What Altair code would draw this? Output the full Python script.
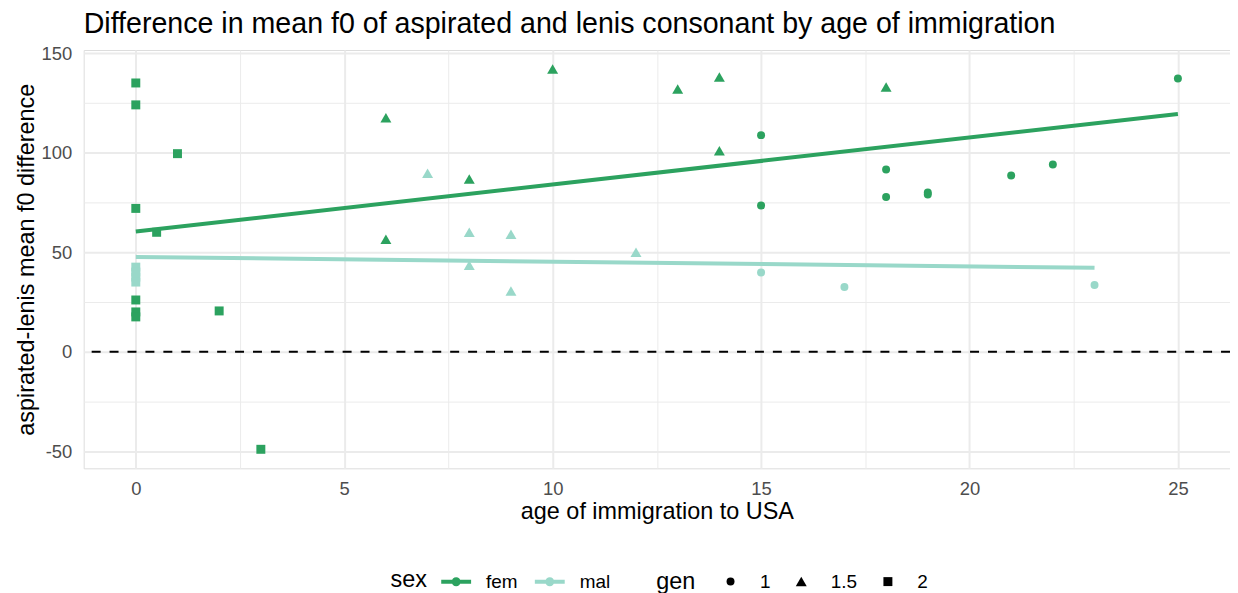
import altair as alt
import pandas as pd

# ---- data ----
fem_x = [0, 0, 0, 0, 0, 0, 0.5, 1, 2, 3,
         6, 6, 8, 10, 13, 14, 14, 18,
         15, 15, 18, 18, 19, 19, 21, 22, 25]
fem_y = [135, 124, 72, 26, 20, 17.5, 60, 99.5, 20.5, -49,
         117.5, 56.5, 86.8, 142, 132, 138, 101, 133,
         108.8, 73.5, 91.5, 77.7, 80, 79, 88.5, 94, 137.3]
fem_gen = ["2"] * 10 + ["1.5"] * 8 + ["1"] * 9

mal_x = [0, 0, 0, 0,
         7, 8, 8, 9, 9, 12,
         15, 17, 23]
mal_y = [42.5, 40, 37.5, 35,
         89.7, 60, 43.5, 59, 30.5, 50,
         39.8, 32.5, 33.5]
mal_gen = ["2"] * 4 + ["1.5"] * 6 + ["1"] * 3

sex_levels = ["fem", "mal"]
sex_colors = ["#2ca25f", "#99d8c9"]
gen_levels = ["1", "1.5", "2"]
gen_shapes = ["circle", "triangle-up", "square"]
gen_sizes = [64, 121, 81]

x_ticks = [0, 2.5, 5, 7.5, 10, 12.5, 15, 17.5, 20, 22.5, 25]
y_ticks = [-50, -25, 0, 25, 50, 75, 100, 125, 150]
zero_line = [0]

df = pd.DataFrame({
    "age": fem_x + mal_x,
    "diff": fem_y + mal_y,
    "sex": ["fem"] * len(fem_x) + ["mal"] * len(mal_x),
    "gen": fem_gen + mal_gen,
})

FONT = "Liberation Sans"
GRID = "#ebebeb"

x_enc = alt.X(
    "age:Q",
    scale=alt.Scale(domain=[-1.25, 26.25], nice=False, zero=False),
    axis=alt.Axis(
        title="age of immigration to USA",
        values=x_ticks,
        labelExpr="datum.value % 5 === 0 ? '' + datum.value : ''",
        grid=True, gridColor=GRID,
        gridWidth={"condition": {"test": "datum.value % 5 === 0", "value": 2}, "value": 1},
        domain=False, ticks=False,
        labelFontSize=18.5, labelColor="#4d4d4d", labelPadding=11,
        labelFont=FONT, titleFont=FONT,
        titleFontSize=23.5, titleFontWeight="normal", titleColor="black",
        titleBaseline="alphabetic", titleY=50, titleX=575.5,
    ),
)
y_enc = alt.Y(
    "diff:Q",
    scale=alt.Scale(domain=[-58.55, 151.55], nice=False, zero=False),
    axis=alt.Axis(
        title="aspirated-lenis mean f0 difference",
        values=y_ticks,
        labelExpr="datum.value % 50 === 0 ? '' + datum.value : ''",
        grid=True, gridColor=GRID,
        gridWidth={"condition": {"test": "datum.value % 50 === 0", "value": 2}, "value": 1},
        domain=False, ticks=False,
        labelFontSize=18.5, labelColor="#4d4d4d", labelPadding=12,
        labelFont=FONT, titleFont=FONT,
        titleFontSize=23.5, titleFontWeight="normal", titleColor="black",
        titleBaseline="alphabetic", titleAngle=270, titleX=-50, titleY=210,
        titleAlign="center",
    ),
)

# legend key for "sex": a thick line with a dot in the middle
SEX_PATH = ("M-1,-0.133H1V0.133H-1Z "
            "M0.3,0C0.3,0.1657 0.1657,0.3 0,0.3C-0.1657,0.3 -0.3,0.1657 -0.3,0"
            "C-0.3,-0.1657 -0.1657,-0.3 0,-0.3C0.1657,-0.3 0.3,-0.1657 0.3,0Z")

base = alt.Chart(df)

hline = alt.Chart(pd.DataFrame({"diff": zero_line})).mark_rule(
    color="black", strokeDash=[9, 9], strokeWidth=2
).encode(y=y_enc)

# stroke scale gets its domain from the data (sorted: fem, mal) so that its
# hidden legend does not swallow the colour legend
lines = base.transform_regression(
    "age", "diff", groupby=["sex"]
).mark_line(strokeWidth=4).encode(
    x=x_enc, y=y_enc,
    stroke=alt.Stroke("sex:N", scale=alt.Scale(range=sex_colors), legend=None),
)

gen_legend = alt.Legend(
    title="gen", orient="none", legendX=575, legendY=524, direction="horizontal",
    titleOrient="left", titleAnchor="middle", titlePadding=25, labelOffset=20, columnPadding=21,
    symbolFillColor="black", symbolStrokeWidth=0, padding=0,
    labelFontSize=19, titleFontSize=23.5, titleFontWeight="normal",
    labelColor="black", titleColor="black", labelFont=FONT, titleFont=FONT,
    titleBaseline="middle",
)

sex_legend = alt.Legend(
    title="sex", orient="none", legendX=308, legendY=519, direction="horizontal",
    titleOrient="left", titleAnchor="middle", titlePadding=14, labelOffset=15, columnPadding=17,
    symbolType=SEX_PATH, symbolSize=900, symbolStrokeWidth=0, padding=0,
    labelFontSize=19, titleFontSize=23.5, titleFontWeight="normal",
    labelColor="black", titleColor="black", labelFont=FONT, titleFont=FONT,
    titleBaseline="middle",
)

points = base.mark_point(filled=True, opacity=1).encode(
    x=x_enc, y=y_enc,
    color=alt.Color("sex:N", scale=alt.Scale(domain=sex_levels, range=sex_colors),
                    legend=sex_legend),
    shape=alt.Shape("gen:N", scale=alt.Scale(domain=gen_levels, range=gen_shapes), legend=gen_legend),
    size=alt.Size("gen:N", scale=alt.Scale(type="ordinal", domain=gen_levels, range=gen_sizes),
                  legend=gen_legend),
)

chart = alt.layer(hline, lines, points).properties(
    width=1151, height=420,
    title=alt.TitleParams(
        "Difference in mean f0 of aspirated and lenis consonant by age of immigration",
        anchor="start", frame="group", fontSize=28.7, fontWeight="normal",
        font=FONT, color="black", offset=5,
    ),
    autosize=alt.AutoSizeParams(type="none"),
    padding={"left": 76, "top": 41, "right": 0, "bottom": 124},
).configure_view(stroke=None).configure(font=FONT)

chart.save("out.html", embed_options={"renderer": "svg", "actions": False})
